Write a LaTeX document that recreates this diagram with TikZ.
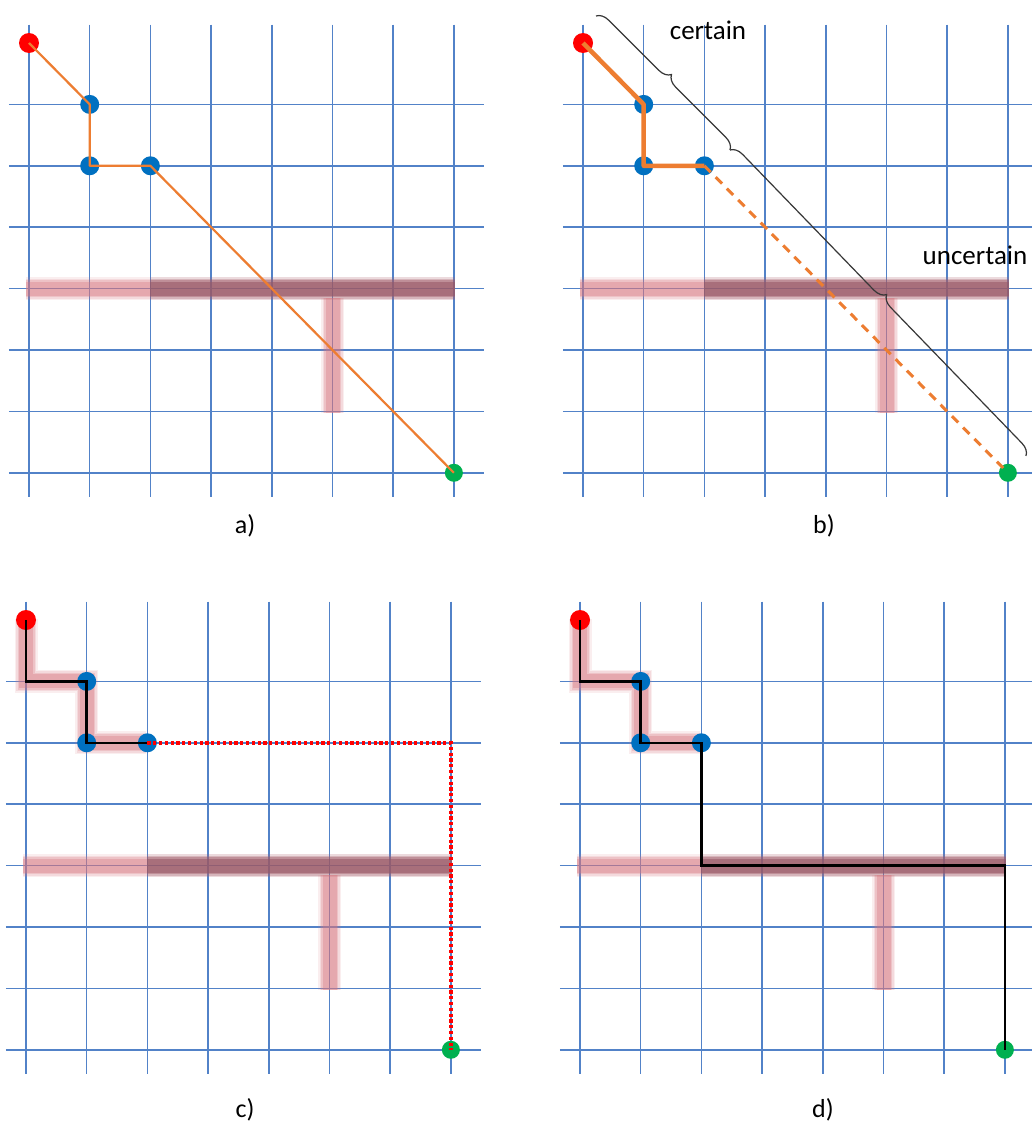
\documentclass[tikz,border=0pt]{standalone}
\usepackage{fontspec}
\setmainfont{Carlito}
\usetikzlibrary{decorations.pathreplacing}
\definecolor{gridblue}{RGB}{82,130,200}
\definecolor{pathorange}{RGB}{237,125,49}
\definecolor{dotblue}{RGB}{0,112,192}
\definecolor{dotgreen}{RGB}{0,176,80}
\definecolor{dotred}{RGB}{255,0,0}
\definecolor{barpink}{RGB}{215,118,128}
\definecolor{bardark}{RGB}{135,80,95}
\definecolor{bracegray}{RGB}{55,55,55}
\tikzset{
  gridline/.style={draw=gridblue, line width=1.5pt},
  dotstyle/.style={circle, inner sep=0pt, minimum size=#1},
  reddot/.style={dotstyle=20pt, fill=dotred},
  bluedot/.style={dotstyle=19pt, fill=dotblue},
  greendot/.style={dotstyle=18pt, fill=dotgreen},
  orangethin/.style={draw=pathorange, line width=2.2pt, line join=round},
  orangethick/.style={draw=pathorange, line width=4.5pt, line join=round},
  orangedash/.style={draw=pathorange, line width=3pt, dash pattern=on 9pt off 7pt},
  blackpath/.style={draw=black, line width=2.6pt, line join=miter},
  reddotted/.style={draw=dotred, line width=3.6pt, dash pattern=on 3.2pt off 2.6pt},
  lbl/.style={font=\fontsize{26}{30}\selectfont, text=black, inner sep=0pt},
  bracestyle/.style={draw=bracegray, line width=1.2pt, decorate, decoration={brace, amplitude=12pt}},
}
% soft (blurred-looking) stroke: #1 colour, #2 path
\newcommand\softstroke[2]{%
  \foreach \w/\o in {23/0.12,20/0.16,17/0.24,14/0.34}{%
    \draw[draw=#1, line width=\w pt, opacity=\o, line cap=butt, line join=miter] #2;}%
}
% one panel: #1 x0, #2 y0, #3 content drawn on top
\newcommand\gridpanel[3]{%
  \begin{scope}[shift={(#1pt,-#2pt)}, x=60.7pt, y=-61.4pt]
    \foreach \i in {0,...,7} \draw[gridline] (\i,-0.3) -- (\i,7.4);
    \foreach \j in {1,...,7} \draw[gridline] (-0.33,\j) -- (7.5,\j);
    \softstroke{barpink}{(-0.05,4) -- (7.02,4)}
    \softstroke{bardark}{(2,4) -- (7.02,4)}
    \softstroke{barpink}{(5,4.16) -- (5,6.03)}
    #3
  \end{scope}%
}
\begin{document}
\begin{tikzpicture}[x=1pt,y=-1pt]
\useasboundingbox[fill=white] (0,0) rectangle (1031,1127);

% ---------- panel a ----------
\gridpanel{29}{43}{
  \node[reddot] (as) at (0,0) {};
  \node[bluedot] (ab1) at (1,1) {};
  \node[bluedot] (ab2) at (1,2) {};
  \node[bluedot] (ab3) at (2,2) {};
  \node[greendot] (ag) at (7,7) {};
  \draw[orangethin] (as.center) -- (ab1.center) -- (ab2.center) -- (ab3.center) -- (ag.center);
}

% ---------- panel b ----------
\gridpanel{583}{43}{
  \node[reddot] (bs) at (0,0) {};
  \node[bluedot] (bb1) at (1,1) {};
  \node[bluedot] (bb2) at (1,2) {};
  \node[bluedot] (bb3) at (2,2) {};
  \node[greendot] (bg) at (7,7) {};
  \draw[orangethick] (bs.center) -- (bb1.center) -- (bb2.center) -- (bb3.center);
  \draw[orangedash] (bb3.center) -- (bg.center);
}

% ---------- panel c ----------
\gridpanel{26}{620}{
  \softstroke{barpink}{(0,-0.02) -- (0,1) -- (1,1) -- (1,2) -- (1.97,2)}
  \node[reddot] (cs) at (0,0) {};
  \node[bluedot] (cb1) at (1,1) {};
  \node[bluedot] (cb2) at (1,2) {};
  \node[bluedot] (cb3) at (2,2) {};
  \node[greendot] (cg) at (7,7) {};
  \coordinate (cc1) at (0,1);
  \coordinate (cc2) at (7,2);
  \draw[blackpath] (cs.center) -- (cc1) -- (cb1.center) -- (cb2.center) -- (cb3.center);
  \draw[reddotted] (cb3.center) -- (cc2) -- (cg.center);
}

% ---------- panel d ----------
\gridpanel{580}{620}{
  \softstroke{barpink}{(0,-0.02) -- (0,1) -- (1,1) -- (1,2) -- (1.97,2)}
  \node[reddot] (ds) at (0,0) {};
  \node[bluedot] (db1) at (1,1) {};
  \node[bluedot] (db2) at (1,2) {};
  \node[bluedot] (db3) at (2,2) {};
  \node[greendot] (dg) at (7,7) {};
  \coordinate (dc1) at (0,1);
  \coordinate (dc2) at (2,4);
  \coordinate (dc3) at (7,4);
  \draw[blackpath] (ds.center) -- (dc1) -- (db1.center) -- (db2.center) -- (db3.center) -- (dc2) -- (dc3) -- (dg.center);
}

% ---------- braces and labels in panel b ----------
\coordinate (brA) at (596,16);
\coordinate (brJ) at (730,150);
\coordinate (brE) at (1026,456);
\draw[bracestyle] (brA) -- (brJ);
\draw[bracestyle] (brJ) -- (brE);
\node[lbl, font=\fontsize{27}{31}\selectfont] (tcert) at (708,30) {certain};
\node[lbl, font=\fontsize{27}{31}\selectfont] (tunc) at (975,255) {uncertain};

% ---------- panel captions ----------
\node[lbl, anchor=base] (la) at (245,533) {a)};
\node[lbl, anchor=base] (lb) at (824,533) {b)};
\node[lbl, anchor=base] (lc) at (245,1117) {c)};
\node[lbl, anchor=base] (ld) at (823,1117) {d)};
\end{tikzpicture}
\end{document}
